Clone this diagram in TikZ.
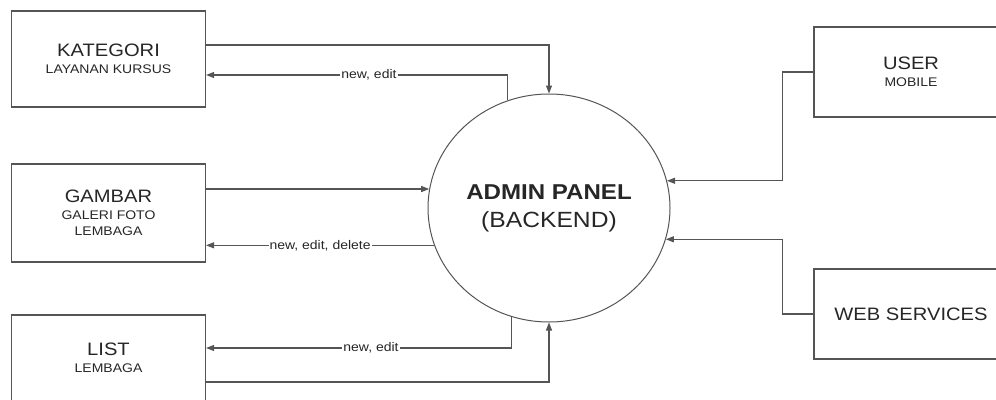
\documentclass[tikz,border=0pt]{standalone}
\usepackage{fontspec}
\setmainfont{Liberation Sans}[FakeStretch=1.12]
\usetikzlibrary{shapes.geometric, arrows.meta}

\definecolor{linegray}{HTML}{555555}
\definecolor{textgray}{HTML}{262626}
\newcommand{\bigtxt}[1]{{\fontsize{18}{18}\selectfont #1}}

\tikzset{
  entity/.style={draw=linegray, line width=1.1pt, minimum width=194pt,
    minimum height=96pt, inner sep=0pt, align=center, text=textgray,
    font=\fontsize{12.5}{16.5}\selectfont},
  flow/.style={draw=linegray, line width=1.1pt,
    -{Triangle[length=8pt, width=6pt]}},
  flowlabel/.style={fill=white, inner sep=1pt, text=textgray,
    font=\fontsize{12.5}{12.5}\selectfont}
}

\begin{document}
\begin{tikzpicture}[x=1pt, y=-1pt]
  \useasboundingbox (0,0) rectangle (996,399);
  % process
  \node[ellipse, draw=linegray, line width=1pt, minimum width=242pt,
    minimum height=228pt, inner sep=0pt, align=center, text=textgray,
    font=\fontsize{22}{28}\selectfont] (admin) at (549,208)
    {{\bfseries\fontsize{21.5}{21.5}\selectfont ADMIN PANEL}\\(BACKEND)};
  % left entities
  \node[entity] (kat) at (108.5,59) {\bigtxt{KATEGORI}\\LAYANAN KURSUS};
  \node[entity, minimum height=98pt] (gam) at (108.5,213)
    {\bigtxt{GAMBAR}\\GALERI FOTO\\LEMBAGA};
  \node[entity, minimum height=86pt] (lst) at (108.5,358)
    {\bigtxt{LIST}\\LEMBAGA};
  % right entities
  \node[entity, minimum height=90pt] (usr) at (911,72)
    {\bigtxt{USER}\\MOBILE};
  \node[entity, minimum height=90pt] (web) at (911,314)
    {\bigtxt{WEB SERVICES}};

  % flows
  \draw[flow] ([yshift=14pt]kat.east) -| (admin.north);
  \draw[flow] (admin.111) |- ([yshift=-16pt]kat.east)
    node[flowlabel, pos=0.73] {new, edit};
  \draw[flow] (gam.east |- admin.171) -- (admin.171);
  \draw[flow] (admin.198.4) -- (gam.east |- admin.198.4)
    node[flowlabel, pos=0.5] {new, edit, delete};
  \draw[flow] (admin.251.2) |- ([yshift=10pt]lst.east)
    node[flowlabel, pos=0.73] {new, edit};
  \draw[flow] ([yshift=-24pt]lst.east) -| (admin.south);
  \draw[flow] (usr.west) -- ++(-31pt,0) |- (admin.13.9);
  \draw[flow] (web.west) -- ++(-31pt,0) |- (admin.-15.4);
\end{tikzpicture}
\end{document}
